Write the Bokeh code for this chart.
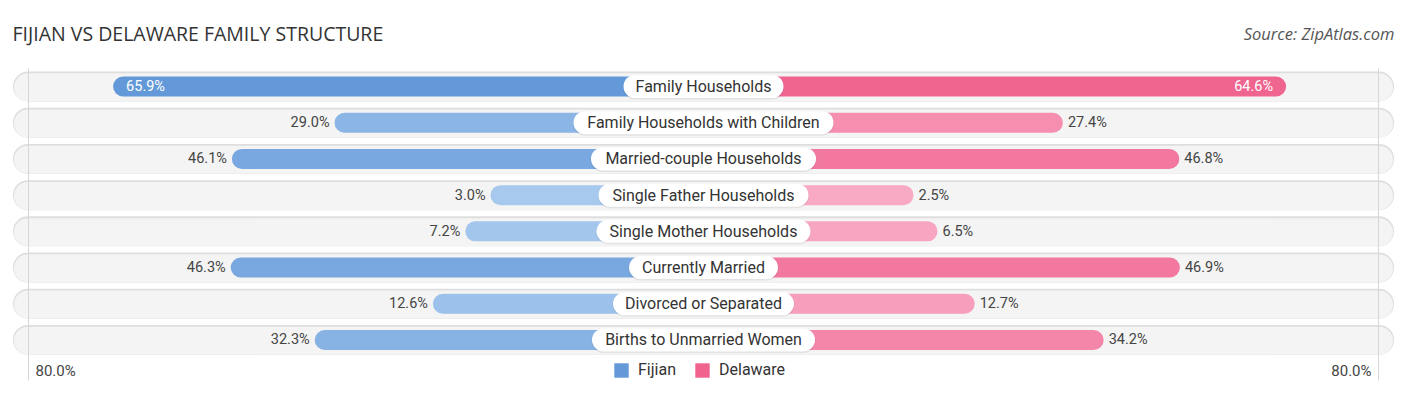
from bokeh.plotting import figure
from bokeh.models import Range1d, Label, Legend, LegendItem, ColumnDataSource
from bokeh.core.properties import value
from bokeh.embed import file_html
from bokeh.resources import INLINE

# ---------------- data ----------------
categories = [
    "Family Households",
    "Family Households with Children",
    "Married-couple Households",
    "Single Father Households",
    "Single Mother Households",
    "Currently Married",
    "Divorced or Separated",
    "Births to Unmarried Women",
]
fijian = [65.9, 29.0, 46.1, 3.0, 7.2, 46.3, 12.6, 32.3]
delaware = [64.6, 27.4, 46.8, 2.5, 6.5, 46.9, 12.7, 34.2]
series_names = ["Fijian", "Delaware"]
axis_max = 80.0
tick_labels = ["80.0%", "80.0%"]
title_text = "FIJIAN VS DELAWARE FAMILY STRUCTURE"
source_text = "Source: ZipAtlas.com"

# ---------------- style / layout ----------------
W, H = 1406, 395
PX = 6.0          # pixels per percentage unit
OFF = 32.5        # bar offset (units) hidden behind the centre label
ROW0, ROWSP = 86.0, 36.21
pill_w = [160, 260, 225, 210, 214, 149, 181, 223]   # label pill widths (px)
FIJ_DARK, FIJ_LIGHT = (99, 153, 217), (170, 203, 238)
DEL_DARK, DEL_LIGHT = (240, 99, 143), (248, 172, 197)
FONT = "Roboto"


def u(px):
    return px / PX


def vy(px):
    return px / ROWSP


def blend(dark, light, t):
    t = max(0.0, min(1.0, t))
    c = [round(l + (d - l) * t) for d, l in zip(dark, light)]
    return "#%02x%02x%02x" % tuple(c)


n = len(categories)
ys = list(range(n))
vmax = max(max(fijian), max(delaware))
half = W / 2 / PX

p = figure(width=W, height=H,
           x_range=Range1d(-half, half),
           y_range=Range1d((H - ROW0) / ROWSP, -ROW0 / ROWSP),
           x_axis_type=None, y_axis_type=None,
           output_backend="svg", toolbar_location=None, min_border=0)
p.grid.visible = False
p.outline_line_color = None
p.background_fill_color = "white"

# tracks
tr = u(690.5 - 15)
p.segment(x0=[-tr] * n, y0=ys, x1=[tr] * n, y1=ys, line_width=30,
          line_color="#dedede", line_cap="round")
p.segment(x0=[-tr] * n, y0=[y + vy(0.8) for y in ys], x1=[tr] * n,
          y1=[y + vy(0.8) for y in ys], line_width=28,
          line_color="#f4f4f4", line_cap="round")

# gridlines at axis max
g = OFF + axis_max
p.segment(x0=[-g, g], y0=[-0.5, -0.5], x1=[-g, g], y1=[8.12, 8.12],
          line_width=1, line_color="#d6d6d6")

# bars
cap = u(10)
fij_src = ColumnDataSource(dict(
    y=ys,
    x0=[-(OFF + v) + cap for v in fijian],
    x1=[0.0] * n,
    c=[blend(FIJ_DARK, FIJ_LIGHT, v / vmax) for v in fijian],
))
del_src = ColumnDataSource(dict(
    y=ys,
    x0=[0.0] * n,
    x1=[(OFF + v) - cap for v in delaware],
    c=[blend(DEL_DARK, DEL_LIGHT, v / vmax) for v in delaware],
))
p.segment(x0="x0", y0="y", x1="x1", y1="y", line_color="c", line_width=20,
          line_cap="round", source=fij_src)
p.segment(x0="x0", y0="y", x1="x1", y1="y", line_color="c", line_width=20,
          line_cap="round", source=del_src)

# centre label pills
pl = [u(w / 2 - 11.5) for w in pill_w]
p.segment(x0=[-a for a in pl], y0=[y + vy(1) for y in ys], x1=pl,
          y1=[y + vy(1) for y in ys], line_width=24, line_color="#000000",
          line_alpha=0.07, line_cap="round")
p.segment(x0=[-a for a in pl], y0=ys, x1=pl, y1=ys, line_width=23,
          line_color="white", line_cap="round")
p.text(x=[0.0] * n, y=ys, text=categories, text_align="center",
       text_baseline="middle", text_font=value(FONT),
       text_font_size="16px", text_color="#333333")

# value labels
INSIDE = 55.0
gap, inset = u(5), u(13)
fx, fa, fc, dx, da, dc = [], [], [], [], [], []
for v in fijian:
    if v > INSIDE:
        fx.append(-(OFF + v) + inset); fa.append("left"); fc.append("white")
    else:
        fx.append(-(OFF + v) - gap); fa.append("right"); fc.append("#444444")
for v in delaware:
    if v > INSIDE:
        dx.append((OFF + v) - inset); da.append("right"); dc.append("white")
    else:
        dx.append((OFF + v) + gap); da.append("left"); dc.append("#444444")
p.text(x=fx, y=ys, text=["%.1f%%" % v for v in fijian], text_align=fa,
       text_baseline="middle", text_font=value(FONT), text_font_size="14.5px",
       text_color=fc)
p.text(x=dx, y=ys, text=["%.1f%%" % v for v in delaware], text_align=da,
       text_baseline="middle", text_font=value(FONT), text_font_size="14.5px",
       text_color=dc)

# axis end labels
ay = (370 - ROW0) / ROWSP
p.text(x=[-g + u(7), g - u(7)], y=[ay, ay], text=tick_labels,
       text_align=["left", "right"], text_baseline="middle",
       text_font=value(FONT), text_font_size="15px", text_color="#444444")

# legend (zero-size proxy bars provide the swatches)
r1 = p.hbar(y=[0], left=[0], right=[0], height=0,
            fill_color=blend(FIJ_DARK, FIJ_LIGHT, 1), line_color=None)
r2 = p.hbar(y=[0], left=[0], right=[0], height=0,
            fill_color=blend(DEL_DARK, DEL_LIGHT, 1), line_color=None)
legend = Legend(items=[LegendItem(label=series_names[0], renderers=[r1]),
                       LegendItem(label=series_names[1], renderers=[r2])],
                orientation="horizontal", location=(612, 16),
                padding=0, margin=0, spacing=17, label_standoff=8,
                glyph_width=18, glyph_height=18, label_height=18,
                label_text_font=FONT, label_text_font_size="16px",
                label_text_color="#333333", border_line_color=None,
                background_fill_alpha=0)
p.add_layout(legend, "center")

# title & source
p.add_layout(Label(x=12, y=H - 33, x_units="screen", y_units="screen",
                   text=title_text, text_font="Open Sans", text_font_size="19.5px",
                   text_color="#333333", text_baseline="middle"))
p.add_layout(Label(x=1394, y=H - 33, x_units="screen", y_units="screen",
                   text=source_text, text_font="Open Sans", text_font_style="italic",
                   text_font_size="16.5px", text_color="#555555",
                   text_align="right", text_baseline="middle"))

open("out.html", "w").write(file_html(p, INLINE))
